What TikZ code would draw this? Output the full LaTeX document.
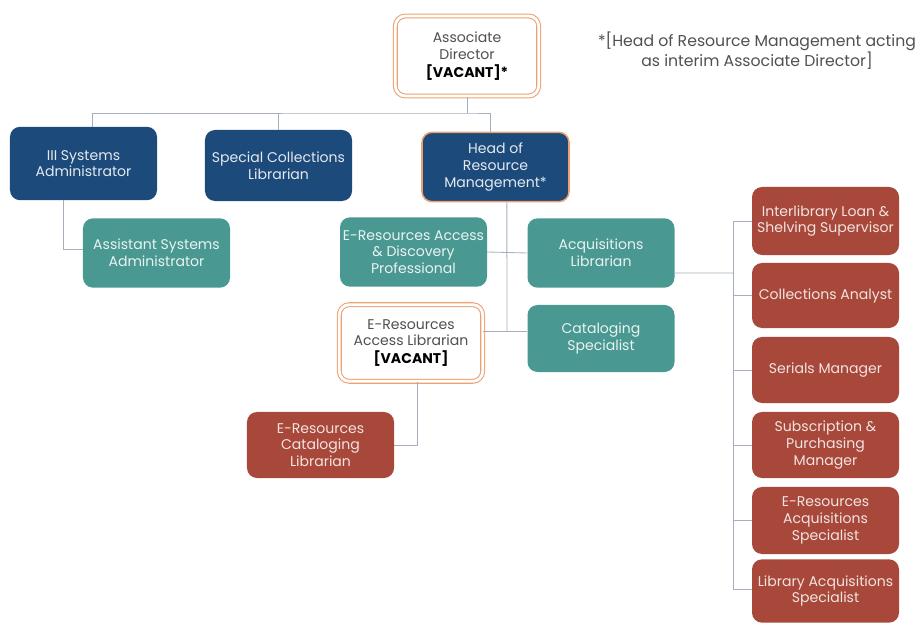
\documentclass[tikz,border=0pt]{standalone}
\usepackage{fontspec}
\setmainfont{Poppins}
\usetikzlibrary{positioning}

\definecolor{navy}{RGB}{28,74,122}
\definecolor{teal}{RGB}{74,152,146}
\definecolor{brick}{RGB}{168,72,58}
\definecolor{peach}{RGB}{238,160,112}
\definecolor{wire}{RGB}{165,174,188}
\definecolor{ink}{RGB}{80,80,80}

\tikzset{
  card/.style={rounded corners=0.3cm, minimum width=4.41cm, minimum height=2.08cm,
    align=center, inner sep=1pt, font=\fontsize{12}{14.3}\selectfont},
  navycard/.style={card, fill=navy, text=white!88!navy},
  tealcard/.style={card, fill=teal, text=white!88!teal},
  brickcard/.style={card, fill=brick, text=white!85!brick},
  vacant/.style={card, fill=white, text=ink, draw=peach, double=white,
    double distance=2.4pt, line width=0.9pt},
  conn/.style={draw=wire, line width=0.7pt},
}

\begin{document}
\begin{tikzpicture}[x=0.03cm, y=-0.03cm]
\useasboundingbox (0,0) rectangle (917,623);

% top
\node[vacant, minimum width=4.3cm, minimum height=2.4cm] (ad) at (467,56)
  {Associate\\Director\\[1pt]\textcolor{black}{\textbf{[VACANT]*}}};
\node[text=ink, align=center, font=\fontsize{13.4}{17}\selectfont] (note) at (757,51)
  {*[Head of Resource Management acting\\as interim Associate Director]};

% second row
\node[navycard, minimum height=2.2cm] (iii) at (83.5,163.5) {III Systems\\Administrator};
\node[navycard, minimum height=2.13cm] (spc) at (278.5,165.5) {Special Collections\\Librarian};
\node[navycard, draw=peach, line width=1.3pt] (hrm) at (495.5,167) {Head of\\Resource\\Management*};

% under the heads
\node[tealcard] (asa) at (156.5,253) {Assistant Systems\\Administrator};
\node[tealcard] (erad) at (413.5,252) {E-Resources Access\\\& Discovery\\Professional};
\node[tealcard] (acq) at (601,253) {Acquisitions\\Librarian};
\node[tealcard, minimum height=2.01cm] (cat) at (601,338.5) {Cataloging\\Specialist};
\node[vacant, minimum width=4.3cm, minimum height=2.3cm] (eral) at (411,343)
  {E-Resources\\Access Librarian\\[1pt]\textcolor{black}{\textbf{[VACANT]}}};
\node[brickcard, minimum height=1.98cm] (ercl) at (320.5,445) {E-Resources\\Cataloging\\Librarian};

% acquisitions staff
\node[brickcard, minimum height=2.04cm] (r1) at (825.5,221) {Interlibrary Loan \&\\Shelving Supervisor};
\node[brickcard, minimum height=1.95cm] (r2) at (825.5,295.5) {Collections Analyst};
\node[brickcard, minimum height=1.98cm] (r3) at (825.5,370) {Serials Manager};
\node[brickcard, minimum height=1.98cm] (r4) at (825.5,445) {Subscription \&\\Purchasing\\Manager};
\node[brickcard, minimum height=2.01cm] (r5) at (825.5,520.5) {E-Resources\\Acquisitions\\Specialist};
\node[brickcard, minimum height=1.9cm] (r6) at (825.5,591) {Library Acquisitions\\Specialist};

% connectors
\coordinate (bus) at (467,113);
\coordinate (trunk) at (507,331);
\coordinate (rbus) at (733,273);

\draw[conn] (ad.south) -- (bus);
\draw[conn] ([xshift=0.28cm]iii.north) |- (bus) -| ([xshift=-0.16cm]hrm.north);
\draw[conn] (spc.north) -- (spc.north |- bus);
\draw[conn] ([xshift=-0.6cm]iii.south) |- ([yshift=0.12cm]asa.west);

\draw[conn] ([xshift=0.34cm]hrm.south) -- (trunk);
\draw[conn] (erad.east) -- (acq.west);
\draw[conn] (eral.east |- trunk) -- (cat.west |- trunk);
\draw[conn] ([xshift=0.18cm]eral.south) |- (ercl.east);

\draw[conn] ([yshift=-0.6cm]acq.east) -- (rbus);
\draw[conn] (r1.west -| rbus) -- ([yshift=0.06cm]r6.west -| rbus);
\foreach \n in {r1,r2,r3,r4,r5} \draw[conn] (\n.west -| rbus) -- (\n.west);
\draw[conn] ([yshift=0.06cm]r6.west -| rbus) -- ([yshift=0.06cm]r6.west);
\end{tikzpicture}
\end{document}
